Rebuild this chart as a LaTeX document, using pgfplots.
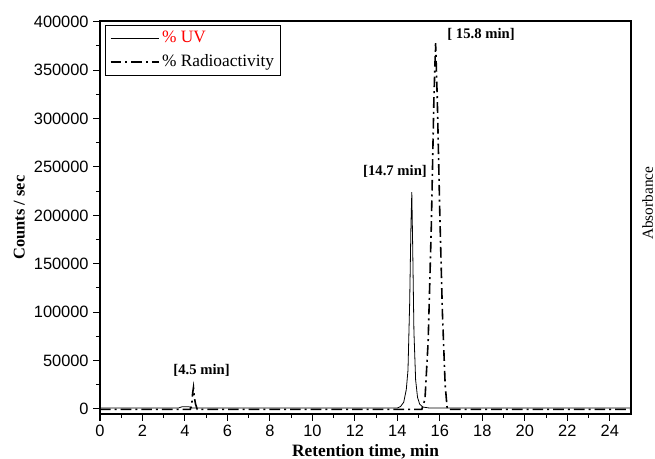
\documentclass[border=0pt]{standalone}
\usepackage{pgfplots}
\pgfplotsset{compat=1.18}
\usepackage{fontspec}
\setmainfont{Liberation Serif}
\newfontfamily\arialf{Liberation Sans}
\begin{document}
\begin{tikzpicture}
\begin{axis}[
  scale only axis,
  width=398.25pt, height=294.75pt,
  xmin=0, xmax=25, ymin=-5200, ymax=400800,
  xtick={0,2,...,24},
  ytick={0,50000,...,400000},
  minor x tick num=1,
  minor y tick num=1,
  tick align=outside,
  tick pos=left,
  major tick length=5pt,
  minor tick length=3pt,
  axis line style={line width=1pt},
  every tick/.style={line width=0.8pt, black},
  scaled y ticks=false,
  /pgf/number format/.cd, fixed, 1000 sep={}, assume math mode=true,
  /pgfplots/.cd,
  tick label style={font=\arialf\fontsize{12.3}{14}\selectfont},
  xlabel={\textbf{Retention time, min}},
  ylabel={\textbf{Counts / sec}},
  xlabel style={font=\fontsize{13}{15}\selectfont, yshift=1pt},
  ylabel style={font=\fontsize{12.3}{14}\selectfont, yshift=0pt},
  legend style={at={(rel axis cs:0,1)}, anchor=north west, xshift=4pt, yshift=-3pt,
    draw=black, line width=0.6pt, font=\fontsize{13}{15}\selectfont,
    row sep=3.5pt, inner xsep=3pt, inner ysep=2.5pt},
  legend cell align=left,
  legend image code/.code={\draw[#1] (0pt,0pt) -- (36pt,0pt);},
]
\addplot[black, line width=0.6pt] coordinates {
(0,1000) (3.7,1000) (3.85,2200) (4.2,2200) (4.35,1000)
(14.0,1000) (14.15,2500) (14.3,7000) (14.42,20000) (14.5,40000) (14.58,110000) (14.64,190000) (14.68,224000)
(14.72,170000) (14.78,80000) (14.86,30000) (14.95,12000) (15.05,5000) (15.2,2000) (15.5,1000) (25,1000)};
\addlegendentry{\textcolor{red}{\% UV}}
\addplot[black, line width=1.2pt, dash pattern=on 8pt off 3pt on 1.5pt off 3pt] coordinates {
(0,-500) (4.25,-500) (4.32,4000) (4.36,16000) (4.4,22000) (4.44,12000) (4.5,5000) (4.58,-500)
(15.15,-500) (15.3,10000) (15.45,70000) (15.6,190000) (15.72,320000) (15.8,378000)
(15.88,320000) (16.0,200000) (16.12,100000) (16.25,25000) (16.35,-500) (25,-500)};
\addlegendentry{\% Radioactivity}
\node[font=\bfseries\fontsize{11}{13}\selectfont] at (axis cs:4.78,40300) {[4.5 min]};
\node[font=\bfseries\fontsize{11}{13}\selectfont] at (axis cs:13.89,245000) {[14.7 min]};
\node[font=\bfseries\fontsize{11}{13}\selectfont] at (axis cs:17.94,386600) {[ 15.8 min]};
\end{axis}
\node[rotate=90, anchor=center, inner sep=0pt, font=\fontsize{11.5}{13}\selectfont] at (410.8pt,158pt) {Absorbance};
\pgfresetboundingbox
\path[use as bounding box] (-75pt,-33.75pt) rectangle (416.25pt,310.5pt);
\end{tikzpicture}
\end{document}
